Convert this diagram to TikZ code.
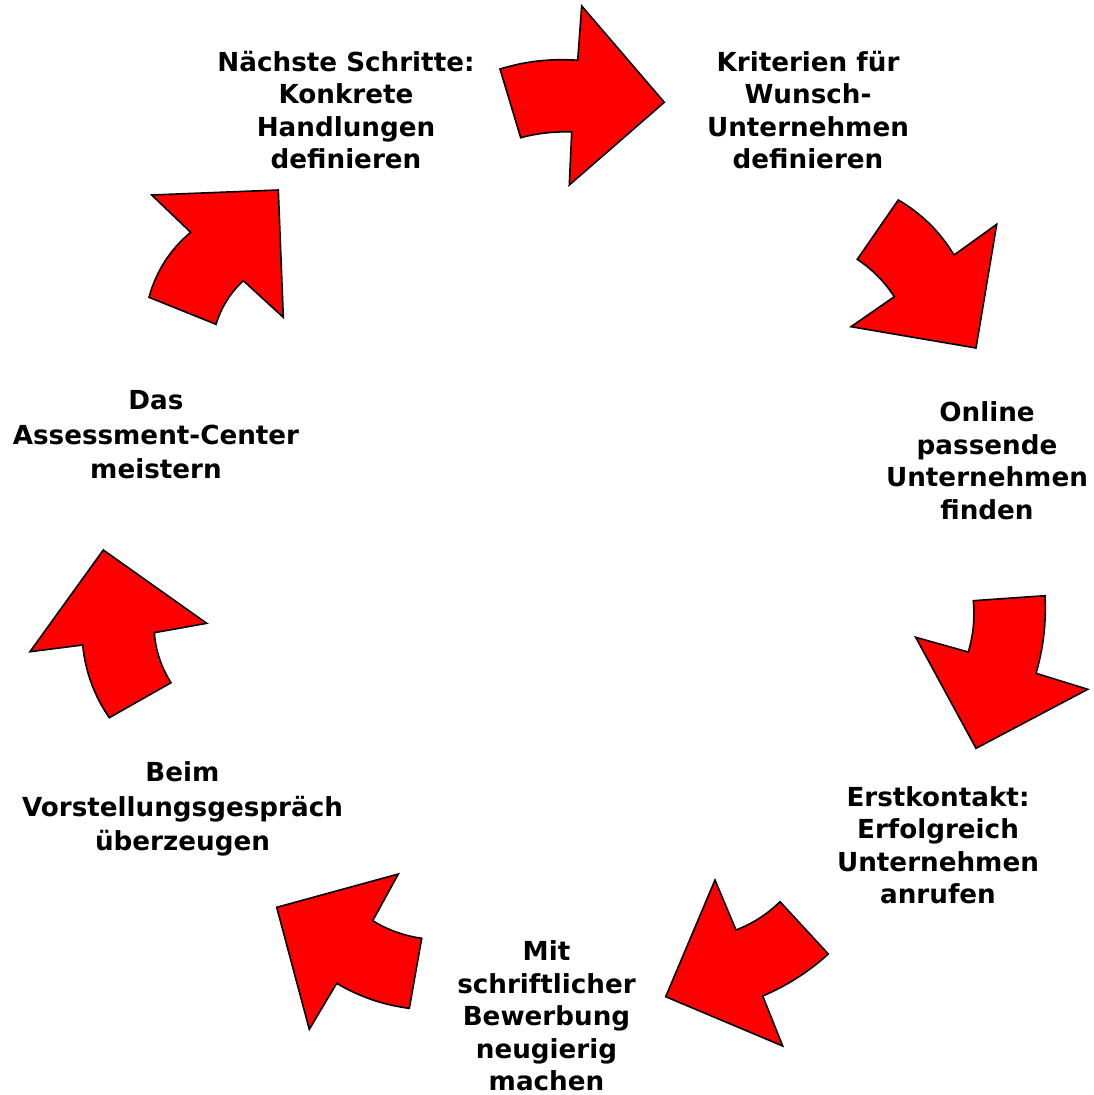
\documentclass[tikz,border=0pt]{standalone}
\usepackage{fontspec}
\setmainfont{DejaVu Sans}
\begin{document}
\begin{tikzpicture}[x=1pt,y=-1pt,
  arr/.style={fill=red, draw=black, line width=1.6pt, line join=miter},
  lbl/.style={font=\bfseries\fontsize{26.2}{32.5}\selectfont, align=center, inner sep=0pt},
  lblw/.style={font=\bfseries\fontsize{26.2}{34.5}\selectfont, align=center, inner sep=0pt}]
\useasboundingbox (0,0) rectangle (1094,1095);
% arrows
\draw[arr] (500,69) .. controls (525.4,61.2) and (551.3,58.3) .. (577.7,60.3) -- (581.7,6) -- (664.3,102.3) -- (569.3,185) -- (571.7,132) .. controls (554.4,131.3) and (537.4,133.2) .. (520.7,137.7) -- cycle;
\draw[arr] (898.3,200) .. controls (921.6,213.6) and (940.1,231.9) .. (954,255) -- (996.7,224.3) -- (976,348) -- (851,326.7) -- (894.3,296.7) .. controls (884.5,281.7) and (872.2,269.2) .. (857.3,259.3) -- cycle;
\draw[arr] (973.3,600.7) .. controls (975,618.1) and (973.3,635.2) .. (968.3,652) -- (915.7,637.3) -- (976,748.3) -- (1087.7,689.3) -- (1036,673.3) .. controls (1043.4,648) and (1046.4,622.1) .. (1045,595.7) -- cycle;
\draw[arr] (715,880) -- (736,930) .. controls (752.6,923.6) and (767.3,914.2) .. (780,901.7) -- (828.3,954) .. controls (808.8,971.7) and (786.9,985.7) .. (762.7,996) -- (782.7,1046) -- (665.7,996.7) -- cycle;
\draw[arr] (276.7,907.3) -- (398.3,874) -- (372.7,920.7) .. controls (387.8,930) and (404.2,935.8) .. (421.7,938.3) -- (409.3,1008.3) .. controls (383.4,1005) and (359.2,996.7) .. (336.7,983.3) -- (309.3,1029.3) -- cycle;
\draw[arr] (103.3,550) -- (206.7,623.3) -- (154.3,632.7) .. controls (155.7,650.8) and (161.3,667.4) .. (171,682.7) -- (109.3,717.7) .. controls (94.2,695.7) and (85.3,671.5) .. (82.7,645) -- (30,651.7) -- cycle;
\draw[arr] (151.7,195) -- (278.3,190) -- (283.3,317.3) -- (243.3,280.7) .. controls (230.3,292.8) and (221.2,307.3) .. (216,324.3) -- (149,297.3) .. controls (156.1,271.3) and (170,249.6) .. (190.7,232.3) -- cycle;
% labels
\node[lbl] (n1) at (808,110) {Kriterien für\\Wunsch-\\Unternehmen\\definieren};
\node[lbl] (n2) at (987,460.5) {Online\\passende\\Unternehmen\\finden};
\node[lbl] (n3) at (938,845) {Erstkontakt:\\Erfolgreich\\Unternehmen\\anrufen};
\node[lbl] (n4) at (546.5,1016) {Mit\\schriftlicher\\Bewerbung\\neugierig\\machen};
\node[lblw] (n5) at (182.5,809) {Beim\\Vorstellungsgespräch\\überzeugen};
\node[lblw] (n6) at (156,435) {Das\\Assessment-Center\\meistern};
\node[lbl] (n7) at (346,110) {Nächste Schritte:\\Konkrete\\Handlungen\\definieren};
\end{tikzpicture}
\end{document}
